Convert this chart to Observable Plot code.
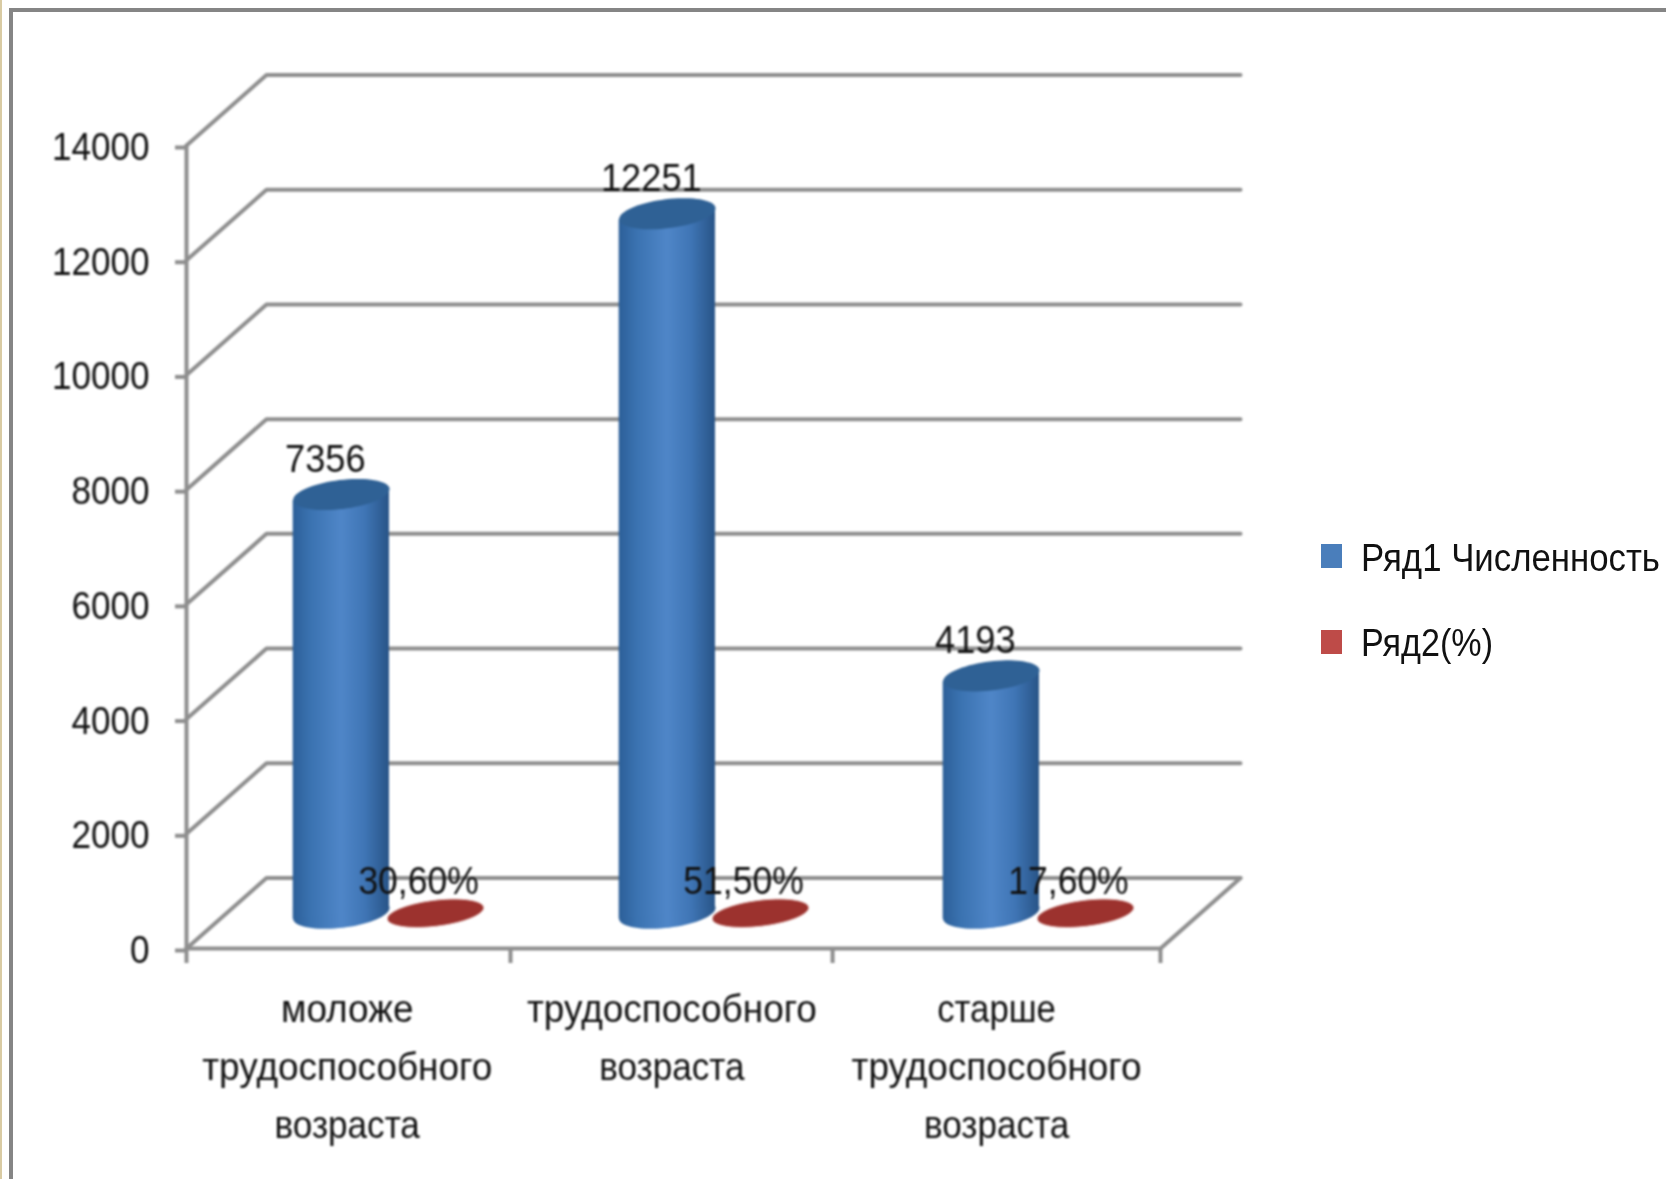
<!DOCTYPE html>
<html><head><meta charset="utf-8">
<script src="https://cdn.jsdelivr.net/npm/d3@7"></script>
<script src="https://cdn.jsdelivr.net/npm/@observablehq/plot@0.6"></script>
<style>
html,body{margin:0;padding:0;background:#fff;overflow:hidden}
#wrap{position:relative;width:1666px;height:1179px;overflow:hidden;background:#fff}
#sliver{position:absolute;left:0;top:0;width:2px;height:1179px;background:#d9cba3}
#frame{position:absolute;left:9px;top:8px;width:1700px;height:1300px;border:4px solid #858585;box-sizing:border-box;background:#fff}
#chart{position:absolute;left:0;top:0}
#chart svg{filter:blur(.8px)}
.lg{position:absolute;font:39px "Liberation Sans",sans-serif;color:#111;line-height:1;white-space:nowrap;transform-origin:0 50%;filter:blur(.6px)}
.sw{position:absolute;width:21px;height:24px;filter:blur(.6px)}
</style></head><body>
<div id="wrap"><div id="sliver"></div><div id="frame"></div><div id="chart"></div>
<div class="sw" style="left:1321px;top:544px;background:#4a7ebb"></div><div class="lg" id="l1" style="left:1361px;top:538px"></div>
<div class="sw" style="left:1321px;top:630px;background:#be4b48"></div><div class="lg" id="l2" style="left:1361px;top:623px"></div>
</div>
<script>
const categories = [["моложе","трудоспособного","возраста"],["трудоспособного","возраста"],["старше","трудоспособного","возраста"]];
const series1 = [7356,12251,4193];
const series2 = [0.306,0.515,0.176];
const yTicks = [0,2000,4000,6000,8000,10000,12000,14000];
const xTicks = [0,0.998,1.99,3];
const legendLabels = ["Ряд1 Численность","Ряд2(%)"];

const l1 = document.getElementById("l1"), l2 = document.getElementById("l2");
l1.textContent = legendLabels[0];
l2.textContent = legendLabels[1];

const depthX = 0.2464, depthY = 1229, midY = depthY/2, topY = midY-55;
const barW = 0.2966, tilt = 103;
const font = '"Liberation Sans",sans-serif';
const fs = 39, ink = "#111", lineC = "#8e8e8e", lw = 4;
const pct = v => (v*100).toFixed(2).replace(".",",")+"%";

const ellipse = (a,b,deg) => ({draw(ctx){
  const t = deg*Math.PI/180, c=Math.cos(t), s=Math.sin(t);
  for(let i=0;i<72;i++){const u=i/72*2*Math.PI,x=a*Math.cos(u),y=b*Math.sin(u),
    px=x*c-y*s,py=x*s+y*c; i?ctx.lineTo(px,py):ctx.moveTo(px,py);}
  ctx.closePath();
}});
const ovalBlue = ellipse(48.5,14.5,-7);
const ovalRed = ellipse(48.5,13,-7);

const blue = series1.map((v,i)=>({x:i+[0.477,0.481,0.479][i],v,y:v+topY}));
const red = series2.map((v,i)=>({x:i+[0.767,0.768,0.769][i],v,y:v+midY}));
const bodies = blue.flatMap((d,i)=>[
  {k:i,x:d.x-barW/2,y1:midY-tilt,y2:d.y-tilt},
  {k:i,x:d.x+barW/2,y1:midY+tilt,y2:d.y+tilt}]);

const gridLines = yTicks.flatMap(v=>[
  {k:v,x:0,y:v},{k:v,x:depthX,y:v+depthY},{k:v,x:3+depthX,y:v+depthY}]);
const frameLines = [
  {k:"a",x:0,y:14000},{k:"a",x:0,y:0},
  {k:"b",x:0,y:0},{k:"b",x:3,y:0},{k:"b",x:3+depthX,y:depthY}];

const catLines = categories.flatMap((lines,c)=>lines.map((text,line)=>({x:c+0.495,text,line})));
const lineMark = n => Plot.text(catLines.filter(d=>d.line===n),{x:"x",y:()=>0,text:"text",dy:46+58*n,
  fontSize:fs,fill:ink,textAnchor:"middle",lineAnchor:"top"});

const defs = () => {
  const d = d3.create("svg:defs");
  const g = d.append("linearGradient").attr("id","cyl");
  [[0,"#2c5f98"],[.18,"#3a72b0"],[.5,"#4f86c8"],[.75,"#3f75b5"],[1,"#285487"]].forEach(([o,c])=>
    g.append("stop").attr("offset",o).attr("stop-color",c));
  return d.node();
};

const chart = Plot.plot({
  width:1666,height:1179,
  marginLeft:186,marginRight:506,marginTop:145,marginBottom:231,
  style:{fontFamily:font,background:"transparent",overflow:"visible"},
  x:{domain:[0,3],axis:null},
  y:{domain:[0,14000],axis:null},
  marks:[
    defs,
    Plot.line(gridLines,{x:"x",y:"y",z:"k",stroke:lineC,strokeWidth:lw}),
    Plot.line(frameLines,{x:"x",y:"y",z:"k",stroke:lineC,strokeWidth:lw}),
    Plot.axisY({ticks:yTicks,tickSize:11,tickPadding:26,tickFormat:d=>String(d),label:null,
      stroke:lineC,strokeWidth:lw,fill:ink,fontSize:fs,dy:2,textStroke:"none"}),
    Plot.axisX({ticks:xTicks,tickSize:15,tickFormat:()=>"",label:null,stroke:lineC,strokeWidth:lw}),
    Plot.dot(blue,{x:"x",y:()=>midY,symbol:ovalBlue,r:40,fill:"url(#cyl)"}),
    Plot.areaY(bodies,{x:"x",y1:"y1",y2:"y2",z:"k",fill:"url(#cyl)",curve:"linear"}),
    Plot.dot(blue,{x:"x",y:"y",symbol:ovalBlue,r:40,fill:"#2f6195"}),
    Plot.dot(red,{x:"x",y:"y",symbol:ovalRed,r:40,fill:"#9c322e",stroke:"#e9c7c4",strokeWidth:1}),
    Plot.text(blue,{x:"x",y:"y",text:d=>String(d.v),dx:-16,dy:-35,fontSize:fs,fill:ink,textAnchor:"middle",lineAnchor:"middle"}),
    Plot.text(red,{x:"x",y:"y",text:d=>pct(d.v),dx:-17,dy:-32,fontSize:fs,fill:ink,textAnchor:"middle",lineAnchor:"middle"}),
    lineMark(0),lineMark(1),lineMark(2)
  ]
});
document.getElementById("chart").appendChild(chart);

// The reference font is narrower than any installed one: squeeze each text horizontally about its anchor.
const vals = new Set(series1.map(String));
chart.querySelectorAll("text").forEach(t=>{
  const s = t.textContent;
  const k = s==="возраста" ? 0.90 : s==="старше" ? 0.89 : /[а-я]/i.test(s) ? 0.947 : s.includes("%") ? 0.91 : vals.has(s) ? 0.93 : 0.9;
  const tr = t.getAttribute("transform");
  if (tr) t.setAttribute("transform", tr+` scale(${k},1)`);
});
const fit = (el,w)=>{ el.style.transform=`scaleX(${w/el.getBoundingClientRect().width})`; };
fit(l1,299); fit(l2,132);
</script>
</body></html>
